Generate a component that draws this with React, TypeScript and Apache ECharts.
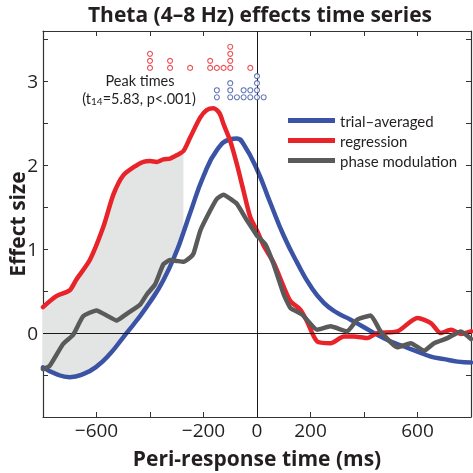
import React, { useEffect, useRef } from "react";
import * as echarts from "echarts";

// ---- data ----
const trialAveraged: [number, number][] = [
  [-800, -0.41], [-750, -0.49], [-700, -0.525], [-650, -0.49], [-600, -0.4],
  [-550, -0.25], [-500, -0.05], [-450, 0.15], [-400, 0.37], [-350, 0.63],
  [-300, 0.98], [-275, 1.2], [-250, 1.43], [-200, 1.87], [-150, 2.18],
  [-100, 2.31], [-75, 2.32], [-50, 2.25], [0, 1.95], [50, 1.55],
  [100, 1.16], [150, 0.84], [200, 0.56], [250, 0.36], [300, 0.24],
  [350, 0.16], [400, 0.07], [450, -0.02], [500, -0.1], [550, -0.16],
  [600, -0.22], [650, -0.28], [700, -0.31], [750, -0.34], [800, -0.35],
];

const regression: [number, number][] = [
  [-800, 0.31], [-750, 0.44], [-700, 0.51], [-675, 0.64], [-625, 0.87],
  [-575, 1.26], [-537, 1.65], [-500, 1.88], [-450, 2.0], [-425, 2.04],
  [-400, 2.05], [-375, 2.04], [-350, 2.07], [-325, 2.08], [-300, 2.12],
  [-275, 2.17], [-250, 2.33], [-212, 2.57], [-187, 2.66], [-162, 2.68],
  [-140, 2.62], [-125, 2.49], [-100, 2.29], [-75, 2.01], [-50, 1.69],
  [-25, 1.38], [0, 1.22], [25, 1.04], [62, 0.84], [100, 0.55],
  [125, 0.38], [162, 0.28], [187, 0.14], [225, -0.1], [275, -0.12],
  [325, -0.04], [362, -0.04], [412, -0.06], [450, 0.0], [525, 0.02],
  [600, 0.18], [650, 0.12], [687, 0.0], [725, 0.04], [762, -0.01], [800, 0.02],
];

const phaseModulation: [number, number][] = [
  [-800, -0.43], [-775, -0.39], [-725, -0.13], [-687, -0.02], [-650, 0.2],
  [-600, 0.27], [-562, 0.21], [-525, 0.15], [-487, 0.23], [-437, 0.34],
  [-412, 0.46], [-381, 0.58], [-350, 0.82], [-325, 0.87], [-300, 0.86],
  [-275, 0.85], [-250, 0.9], [-237, 0.95], [-212, 1.22], [-175, 1.46],
  [-150, 1.6], [-125, 1.65], [-100, 1.6], [-75, 1.54], [-37, 1.34],
  [-12, 1.22], [0, 1.16], [31, 1.06], [62, 0.82], [100, 0.46],
  [125, 0.3], [169, 0.22], [225, 0.04], [275, 0.08], [337, 0.02],
  [375, 0.16], [425, 0.21], [462, 0.02], [525, -0.17], [575, -0.12],
  [625, -0.21], [662, -0.12], [712, -0.06], [762, 0.02], [800, -0.07],
];

// per-subject peak times (ms)
const regressionPeaks = [-400, -400, -400, -325, -325, -250, -175, -175, -150, -125, -100, -100, -100, -100, -25];
const trialPeaks = [-150, -150, -100, -100, -100, -75, -50, -50, -25, -25, 0, 0, 0, 0, 25];
const regressionPeakBase = 3.16;
const trialPeakBase = 2.81;
const peakStep = 0.084;

const shadeEnd = -275;

const xTickLabels = [-600, -200, 0, 200, 600];
const yTickLabels = [0, 1, 2, 3];

const seriesNames = ["trial\u2013averaged", "regression", "phase modulation"];

const FONT = "'Open Sans', Lato, 'DejaVu Sans', sans-serif";
const FONT_SMALL = "Lato, 'Open Sans', 'DejaVu Sans', sans-serif";
const BLUE = "#3b53a4";
const RED = "#e8232a";
const GRAY = "#5a5a5a";
const INK = "#231f20";

function stackDots(times: number[], base: number, step: number) {
  const count: Record<string, number> = {};
  return times.map((t) => {
    const k = count[t] || 0;
    count[t] = k + 1;
    return [t, base + k * step];
  });
}

const fmtX = (v: number) => (v < 0 ? "\u2212" + Math.abs(v) : String(v));

export default function App() {
  const ref = useRef<HTMLDivElement>(null);
  useEffect(() => {
    const chart = echarts.init(ref.current!, null, { renderer: "svg" });
    const redFill = regression.filter((p) => p[0] <= shadeEnd);
    const blueFill = trialAveraged.filter((p) => p[0] <= shadeEnd).reverse();

    const axisLine = { onZero: false, lineStyle: { color: "#333", width: 1.2 } };
    const axisTick = { inside: true, length: 5, lineStyle: { color: "#333", width: 1 } };

    const option: any = {
      animation: false,
      title: {
        text: "Theta (4\u20138 Hz) effects time series",
        left: 260,
        textAlign: "center",
        top: 3.5,
        padding: 0,
        textStyle: { fontFamily: FONT, fontWeight: "bold", fontSize: 21, color: INK },
      },
      grid: { left: 43, right: 2, top: 31, bottom: 56, outerBoundsMode: "none", containLabel: false },
      legend: {
        data: seriesNames,
        orient: "vertical",
        left: 288,
        top: 113,
        padding: 0,
        icon: "rect",
        itemWidth: 47,
        itemHeight: 5,
        itemGap: 5,
        textStyle: { fontFamily: FONT_SMALL, fontSize: 15, color: INK },
      },
      xAxis: [
        {
          type: "value",
          min: -800,
          max: 800,
          interval: 200,
          position: "bottom",
          axisLine,
          axisTick,
          splitLine: { show: false },
          axisLabel: {
            formatter: (v: number) => (xTickLabels.includes(v) ? fmtX(v) : ""),
            fontFamily: FONT,
            fontSize: 19,
            color: INK,
            margin: 3,
          },
          name: "Peri-response time (ms)",
          nameLocation: "middle",
          nameGap: 30,
          nameMoveOverlap: false,
          nameTextStyle: { fontFamily: FONT, fontWeight: "bold", fontSize: 21, color: INK },
        },
        {
          type: "value",
          min: -800,
          max: 800,
          interval: 200,
          position: "top",
          axisLine,
          axisTick,
          splitLine: { show: false },
          axisLabel: { show: false },
        },
      ],
      yAxis: [
        {
          type: "value",
          min: -1,
          max: 3.6,
          interval: 0.5,
          position: "left",
          axisLine,
          axisTick,
          splitLine: { show: false },
          axisLabel: {
            formatter: (v: number) => (yTickLabels.includes(v) ? String(v) : ""),
            fontFamily: FONT,
            fontSize: 19,
            color: INK,
            margin: 5,
          },
          name: "Effect size",
          nameLocation: "middle",
          nameGap: 16,
          nameMoveOverlap: false,
          nameTextStyle: { fontFamily: FONT, fontWeight: "bold", fontSize: 21, color: INK },
        },
        {
          type: "value",
          min: -1,
          max: 3.6,
          interval: 0.5,
          position: "right",
          axisLine,
          axisTick,
          splitLine: { show: false },
          axisLabel: { show: false },
        },
      ],
      series: [
        {
          type: "custom",
          name: "shade",
          z: 1,
          silent: true,
          data: [[-800, 0]],
          renderItem: (_params: any, api: any) => {
            const pts = [...redFill, ...blueFill].map((p) => api.coord(p));
            return { type: "polygon", shape: { points: pts }, style: { fill: "#e3e4e4" } };
          },
          markLine: {
            silent: true,
            symbol: "none",
            label: { show: false },
            lineStyle: { color: "#1a1a1a", width: 1, type: "solid" },
            data: [{ yAxis: 0 }, { xAxis: 0 }],
          },
        },
        {
          type: "line",
          name: seriesNames[0],
          z: 3,
          data: trialAveraged,
          smooth: 0.5,
          showSymbol: false,
          lineStyle: { color: BLUE, width: 4.5, cap: "round", join: "round" },
          itemStyle: { color: BLUE },
        },
        {
          type: "line",
          name: seriesNames[1],
          z: 4,
          data: regression,
          smooth: 0.25,
          showSymbol: false,
          lineStyle: { color: RED, width: 4.5, cap: "round", join: "round" },
          itemStyle: { color: RED },
        },
        {
          type: "line",
          name: seriesNames[2],
          z: 5,
          data: phaseModulation,
          smooth: 0.15,
          showSymbol: false,
          lineStyle: { color: GRAY, width: 4.5, cap: "round", join: "round" },
          itemStyle: { color: GRAY },
        },
        {
          type: "scatter",
          name: "regression peaks",
          z: 6,
          data: stackDots(regressionPeaks, regressionPeakBase, peakStep),
          symbol: "circle",
          symbolSize: 5,
          itemStyle: { color: "#fff", borderColor: RED, borderWidth: 1.1 },
        },
        {
          type: "scatter",
          name: "trial peaks",
          z: 6,
          data: stackDots(trialPeaks, trialPeakBase, peakStep),
          symbol: "circle",
          symbolSize: 5,
          itemStyle: { color: "#fff", borderColor: BLUE, borderWidth: 1.1 },
        },
      ],
      graphic: [
        {
          type: "text",
          x: 140,
          y: 80.5,
          style: {
            text: "Peak times",
            textAlign: "center",
            textVerticalAlign: "middle",
            fontFamily: FONT_SMALL,
            fontSize: 14.5,
            fill: INK,
          },
        },
        {
          type: "text",
          x: 139,
          y: 98,
          style: {
            text: "(t{sub|14}=5.83, p<.001)",
            textAlign: "center",
            textVerticalAlign: "middle",
            fontFamily: FONT_SMALL,
            fontSize: 14.5,
            fill: INK,
            rich: {
              sub: { fontFamily: FONT_SMALL, fontSize: 10, fill: INK, verticalAlign: "bottom", padding: [3, 0, 0, 0] },
            },
          },
        },
      ],
    };
    chart.setOption(option);
    return () => chart.dispose();
  }, []);
  return <div ref={ref} style={{ position: "fixed", left: 0, top: 0, width: 473, height: 473 }} />;
}
